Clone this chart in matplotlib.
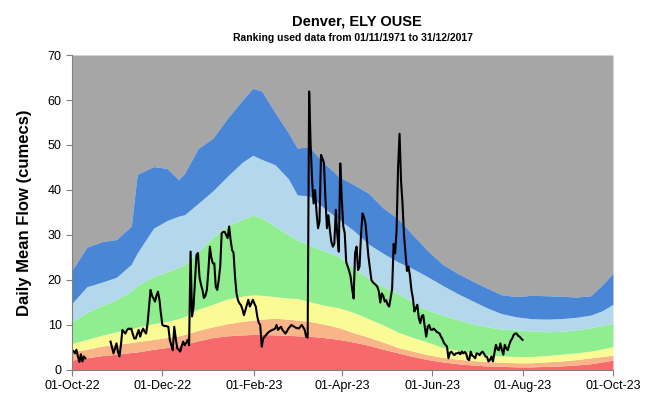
import datetime as dt
import numpy as np
import matplotlib
matplotlib.use("Agg")
import matplotlib.pyplot as plt
import matplotlib.dates as mdates

plt.rcParams['font.family'] = ['Liberation Sans', 'DejaVu Sans']

START = dt.date(2022, 10, 1)

# Day offsets from 01-Oct-22 for the long-term flow envelope
band_days = [0, 10, 20, 30, 40, 44, 55, 64, 72, 76, 85, 95, 105, 115, 122, 128,
             137, 146, 152, 160, 170, 180, 190, 200, 210, 220, 230, 240, 250,
             260, 270, 280, 290, 300, 310, 320, 330, 340, 350, 358, 365]

# Upper edge of each ranked band (cumecs)
band_red = [2.2, 2.7, 3.2, 3.5, 3.9, 4.0, 4.6, 5.0, 5.4, 5.7, 6.5, 7.2, 7.6, 7.8,
            7.9, 7.9, 7.8, 7.7, 7.6, 7.5, 7.2, 6.8, 6.2, 5.5, 4.6, 3.8, 3.0, 2.3,
            1.8, 1.4, 1.1, 0.9, 0.8, 0.7, 0.7, 0.8, 0.9, 1.1, 1.4, 1.8, 2.2]
band_salmon = [4.1, 4.6, 5.3, 5.7, 6.1, 6.3, 6.8, 7.2, 7.6, 7.9, 8.8, 9.6, 10.3,
               10.8, 11.1, 11.3, 11.5, 11.3, 11.1, 10.8, 10.2, 9.4, 8.3, 7.3, 6.2,
               5.0, 4.2, 3.4, 2.8, 2.4, 2.1, 1.9, 1.7, 1.6, 1.6, 1.8, 2.0, 2.3,
               2.7, 3.0, 3.3]
band_yellow = [5.9, 6.8, 7.7, 8.5, 9.2, 9.5, 10.3, 10.8, 11.4, 11.9, 13.5, 14.6,
               15.8, 16.4, 16.7, 16.6, 16.3, 16.0, 15.9, 15.2, 14.4, 13.8, 12.8,
               11.4, 10.0, 8.4, 7.2, 6.2, 5.0, 4.4, 3.8, 3.3, 3.1, 3.0, 3.0, 3.2,
               3.5, 3.8, 4.2, 4.7, 5.2]
band_green = [10.7, 12.8, 14.3, 15.7, 17.6, 18.8, 20.8, 21.8, 22.8, 23.5, 26.2,
              29.5, 32.0, 33.5, 34.4, 33.8, 32.0, 30.0, 28.9, 27.8, 26.5, 25.2,
              22.5, 20.4, 18.5, 17.0, 15.0, 13.3, 12.2, 11.2, 10.3, 9.6, 9.1, 8.9,
              8.7, 8.5, 8.6, 8.9, 9.4, 9.9, 10.4]
band_lightblue = [14.8, 18.5, 19.5, 20.6, 23.5, 26.0, 31.5, 33.2, 34.2, 34.5, 37.0,
                  39.8, 43.1, 46.2, 47.7, 46.8, 45.6, 42.5, 38.9, 38.7, 36.0, 33.5,
                  31.0, 28.0, 25.9, 24.0, 22.5, 20.7, 18.8, 17.0, 15.4, 13.8, 12.5,
                  11.8, 11.4, 11.3, 11.4, 11.7, 12.2, 13.2, 14.6]
band_blue = [22.2, 27.3, 28.5, 29.0, 32.0, 43.5, 45.2, 44.8, 42.3, 43.7, 49.2, 51.5,
             56.0, 60.0, 62.6, 62.0, 57.2, 52.7, 49.3, 49.6, 46.0, 43.0, 41.2, 39.3,
             36.0, 33.6, 30.0, 26.5, 23.5, 21.5, 19.8, 18.2, 16.7, 16.3, 16.6, 16.5,
             16.4, 16.2, 16.5, 19.0, 21.5]

# Observed daily mean flow 2022-23 (day offset, cumecs); NaN marks missing record
flow_days = [0, 1, 2, 3, 4, 5, 6, 7, 8, 9, 17,
             26, 27, 28, 29, 30, 31, 32, 33, 34, 35, 36, 37, 38, 39, 40, 41, 42, 43,
             44, 45, 46, 47, 48, 49, 50, 51, 52, 53, 54, 55, 56, 57, 58, 59, 60, 61,
             62, 63, 64, 65, 66, 67, 68, 69, 70, 71, 72, 73, 74, 75, 76, 77, 78, 79,
             80, 81, 82, 83, 84, 85, 86, 87, 88, 89, 90, 91, 92, 93, 94, 95, 96, 97,
             98, 99, 100, 101, 102, 103, 104, 105, 106, 107, 108, 109, 110, 111, 112,
             113, 114, 115, 116, 117, 118, 119, 120, 121, 122, 123, 124, 125, 126,
             127, 128, 129, 130, 131, 132, 133, 134, 135, 136, 137, 138, 139, 140,
             141, 142, 143, 144, 145, 146, 147, 148, 149, 150, 151, 152, 153, 154,
             155, 156, 157, 158, 159, 160, 161, 162, 163, 164, 165, 166, 167, 168,
             169, 170, 171, 172, 173, 174, 175, 176, 177, 178, 179, 180, 181, 182,
             183, 184, 185, 186, 187, 188, 189, 190, 191, 192, 193, 194, 195, 196,
             197, 198, 199, 200, 201, 202, 203, 204, 205, 206, 207, 208, 209, 210,
             211, 212, 213, 214, 215, 216, 217, 218, 219, 220, 221, 222, 223, 224,
             225, 226, 227, 228, 229, 230, 231, 232, 233, 234, 235, 236, 237, 238,
             239, 240, 241, 242, 243, 244, 245, 246, 247, 248, 249, 250, 251, 252,
             253, 254, 255, 256, 257, 258, 259, 260, 261, 262, 263, 264, 265, 266,
             267, 268, 269, 270, 271, 272, 273, 274, 275, 276, 277, 278, 279, 280,
             281, 282, 283, 284, 285, 286, 287, 288, 289, 290, 291, 292, 293, 294,
             295, 296, 297, 298, 299, 300, 301, 302, 303, 304]
flow_vals = [4.4, 4.2, 3.7, 4.5, 3.0, 1.8, 3.5, 1.9, 3.0, 2.6, np.nan,
             6.3, 5.0, 3.7, 4.8, 5.9, 4.0, 3.0, 5.5, 8.9, 8.5, 8.1, 8.8, 9.2, 9.1,
             9.2, 8.0, 7.0, 7.0, 8.0, 8.9, 7.4, 8.5, 9.2, 8.5, 8.1, 10.4, 14.0, 17.8,
             16.5, 15.9, 15.2, 16.5, 17.4, 15.6, 12.5, 10.0, 9.8, 9.8, 9.7, 9.6, 6.7,
             5.5, 4.4, 9.6, 7.0, 4.8, 4.5, 4.1, 5.3, 6.3, 5.5, 6.0, 6.7, 5.5,
             26.3, 11.9, 14.1, 20.0, 25.6, 26.0, 20.7, 19.0, 17.8, 16.0, 16.5, 17.8,
             22.0, 27.4, 25.0, 23.7, 23.7, 18.5, 17.8, 20.0, 23.0, 30.4, 30.7, 30.7,
             30.0, 29.3, 31.9, 28.9, 26.7, 26.0, 20.7, 17.0, 15.5, 14.8, 14.4, 13.5,
             12.2, 13.3, 14.5, 15.6, 14.1, 14.8, 15.6, 14.8, 14.1, 11.9, 10.5, 10.0,
             5.2, 7.0, 7.4, 7.8, 8.2, 8.5, 8.7, 8.9, 9.0, 9.2, 10.0, 8.9, 9.3, 9.6,
             8.9, 8.5, 8.1, 8.6, 9.2, 9.6, 10.0, 9.8, 9.6, 9.4, 9.3, 9.2, 9.6, 10.0,
             9.5, 8.9, 7.4, 7.2, 61.9, 50.0, 42.2, 37.0, 40.0, 35.0, 31.5, 33.0,
             47.8, 47.0, 46.0, 38.0, 31.5, 34.4, 31.0, 28.5, 27.4, 28.1, 35.6, 30.0,
             26.3, 45.9, 38.0, 32.0, 30.4, 24.0, 23.0, 22.0, 20.7, 18.0, 15.9, 26.0,
             27.4, 22.2, 23.0, 30.0, 34.8, 34.0, 32.6, 29.0, 25.2, 22.5, 20.0, 19.5,
             19.2, 18.9, 18.5, 17.5, 15.0, 17.0, 16.5, 15.2, 15.5, 14.5, 14.1, 16.0,
             18.1, 28.0, 25.9, 31.0, 45.0, 52.5, 42.0, 37.0, 30.0, 25.9, 22.0, 23.0,
             21.0, 17.8, 16.0, 13.0, 13.7, 14.5, 11.5, 10.4, 12.0, 12.2, 9.6, 7.4,
             9.6, 10.0, 9.0, 8.9, 9.2, 8.9, 8.5, 8.3, 8.1, 7.4, 6.8, 6.0, 5.6, 5.2,
             2.6, 3.8, 4.1, 3.6, 3.3, 3.7, 3.7, 3.9, 3.5, 4.1, 3.7, 4.0, 3.6, 2.4,
             2.2, 4.1, 3.2, 3.0, 2.6, 3.7, 3.6, 3.3, 3.8, 4.1, 3.6, 3.0, 2.9, 1.9,
             2.2, 3.0, 1.9, 3.7, 5.6, 4.6, 4.4, 5.9, 4.5, 3.4, 5.6, 4.8, 4.4, 5.6,
             6.5, 7.0, 7.8, 8.1, 8.1, 7.6, 7.4, 7.0, 6.7]

Y_MAX = 70
band_colors = ['#f66a6e', '#f9b487', '#fbfb96', '#90ee90', '#b3d8ec', '#4a86d6']
gray = '#a6a6a6'

band_dates = [START + dt.timedelta(days=d) for d in band_days]
flow_dates = [START + dt.timedelta(days=d) for d in flow_days]

fig = plt.figure(figsize=(6.51, 3.98), dpi=100)
ax = fig.add_axes([0.1106, 0.0704, 0.8310, 0.7914])

edges = [np.zeros(len(band_days)), band_red, band_salmon, band_yellow,
         band_green, band_lightblue, band_blue]
ax.fill_between(band_dates, band_blue, Y_MAX, color=gray, lw=0)
for lo, hi, c in zip(edges[:-1], edges[1:], band_colors):
    ax.fill_between(band_dates, lo, hi, color=c, lw=0)

ax.plot(flow_dates, flow_vals, color='black', lw=1.5)

ax.set_xlim(START, dt.date(2023, 10, 1))
ax.set_ylim(0, Y_MAX)
ax.set_yticks(range(0, 71, 10))
ax.xaxis.set_major_locator(mdates.MonthLocator(bymonth=[2, 4, 6, 8, 10, 12]))
ax.xaxis.set_major_formatter(mdates.DateFormatter('%d-%b-%y'))

for s in ['top', 'right']:
    ax.spines[s].set_visible(False)
for s in ['left', 'bottom']:
    ax.spines[s].set_color('#808080')
    ax.spines[s].set_linewidth(0.8)
ax.tick_params(axis='both', colors='#808080', labelcolor='black',
               labelsize=9, length=4, width=0.8)
ax.tick_params(axis='x', pad=3)

ax.set_ylabel('Daily Mean Flow (cumecs)', fontsize=12, fontweight='bold',
              labelpad=11)

fig.text(0.548, 0.945, 'Denver, ELY OUSE', ha='center', va='center',
         fontsize=10.5, fontweight='bold')
fig.text(0.543, 0.905, 'Ranking used data from 01/11/1971 to 31/12/2017',
         ha='center', va='center', fontsize=7.5, fontweight='bold')

fig.savefig('out.png', dpi=100)
